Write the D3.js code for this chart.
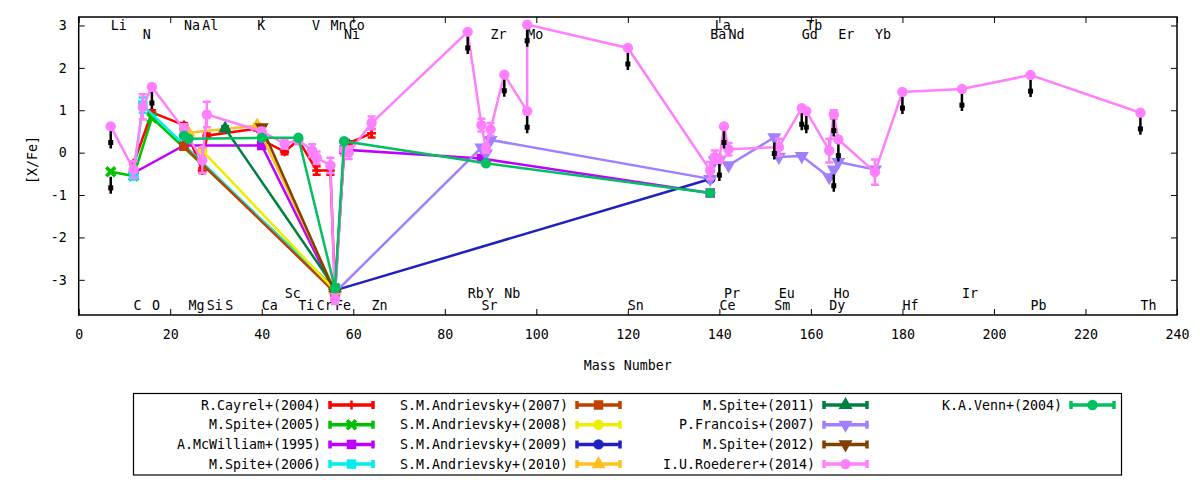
<!DOCTYPE html>
<html>
<head>
<meta charset="utf-8">
<script src="https://cdn.jsdelivr.net/npm/d3@7"></script>
<style>
  body { margin: 0; background: #fff; }
  text { font-family: "DejaVu Sans Mono", monospace; font-size: 13.3px; fill: #000; }
</style>
</head>
<body>
<div id="chart"></div>
<script>
// elements, mass number and which label row (0,1 top / 2,3 bottom)
const elementNames = ["Li","C","N","O","Na","Mg","Al","Si","S","K","Ca","Sc","Ti","V","Cr","Mn","Fe","Co","Ni","Zn",
  "Rb","Sr","Y","Zr","Nb","Mo","Sn","Ba","La","Ce","Pr","Nd","Sm","Eu","Gd","Tb","Dy","Ho","Er","Yb","Hf","Ir","Pb","Th"];
const massNumbers = [7,12,14,16,23,24,27,28,32,39,40,45,48,51,52,55,56,59,58,64,
  85,88,89,90,93,98,120,138,139,140,141,142,152,153,158,159,164,165,166,174,180,193,208,232];
const labelRow = [0,3,1,3,0,3,0,3,3,0,3,2,3,0,3,0,3,0,1,3,
  2,3,2,1,2,1,3,1,0,3,2,1,3,2,1,0,3,2,1,1,3,2,3,3];
const labelLevels = [3.0, 2.78, -3.32, -3.6];

const xTicks = [0,20,40,60,80,100,120,140,160,180,200,220,240];
const yTicks = [-3,-2,-1,0,1,2,3];

// [element, [X/Fe], error, upper limit]
const cayrel2004 = [["C",-0.25,0.05],["O",0.95,0.05],["Na",0.65,0.05],["Al",-0.42,0.06],["Si",0.4,0.05],
  ["K",0.57,0.05],["Ca",0.3,0.05],["Sc",0.02,0.06],["Ti",0.3,0.05],["Cr",-0.42,0.1],["Mn",-0.42,0.1],
  ["Fe",-3.25,0],["Ni",0.05,0.05],["Co",0.22,0.05],["Zn",0.46,0.1]];
const spite2005 = [["Li",-0.45,0,1],["C",-0.55,0],["O",0.82,0],["Fe",-3.2,0]];
const mcwilliam1995 = [["C",-0.48,0],["Na",0.17,0],["Ca",0.17,0.05],["Fe",-3.3,0],["Ni",0.07,0.05],["Sr",-0.14,0],["Ba",-0.95,0]];
const spite2006 = [["C",-0.55,0.05],["N",1.12,0.18],["Fe",-3.25,0]];
const andrievsky2007 = [["Na",0.15,0],["Fe",-3.3,0]];
const andrievsky2008 = [["Al",0.05,0],["Fe",-3.25,0]];
const andrievsky2009 = [["Fe",-3.25,0],["Ba",-0.62,0]];
const andrievsky2010 = [["Mg",0.47,0],["K",0.64,0.05],["Fe",-3.25,0]];
const spite2011 = [["S",0.57,0.05],["Fe",-3.2,0]];
const francois2007 = [["Fe",-3.3,0],["Sr",0.12,0],["Y",-0.02,0],["Zr",0.3,0],["Ba",-0.62,0],["La",-0.18,0],["Ce",-0.18,0],
  ["Nd",-0.3,0],["Sm",0.36,0,1],["Eu",-0.1,0],["Gd",-0.08,0],["Dy",-0.58,0],["Ho",-0.4,0,1],["Er",-0.22,0],["Yb",-0.4,0]];
const spite2012 = [["Ca",0.6,0],["Fe",-3.3,0]];
const roederer2014 = [["Li",0.62,0,1],["C",-0.4,0.2],["N",1.08,0.3],["O",1.55,0,1],["Na",0.55,0.12],["Al",-0.18,0.3],
  ["Si",0.9,0.3],["Ca",0.5,0.08],["Sc",0.21,0.12],["Ti",0.3,0.1],["V",0.05,0.15],["Cr",-0.12,0.15],["Mn",-0.3,0.18],
  ["Fe",-3.45,0.12],["Ni",0.08,0.15],["Co",0.0,0.15],["Zn",0.7,0.15],["Rb",2.85,0,1],["Sr",0.65,0.15],["Y",0.1,0.1],
  ["Zr",0.55,0.15],["Nb",1.84,0,1],["Mo",0.98,0,1],["Mo",3.02,0,1],["Sn",2.47,0,1],["Ba",-0.42,0.2],["La",-0.1,0.15],
  ["Ce",-0.15,0,1],["Pr",0.62,0,1],["Nd",0.08,0.15],["Eu",0.13,0.2],["Gd",1.05,0,1],["Tb",0.98,0,1],["Dy",0.05,0.28],
  ["Ho",0.9,0.1,1],["Er",0.31,0,1],["Yb",-0.46,0.3],["Hf",1.43,0,1],["Ir",1.5,0,1],["Pb",1.83,0,1],["Th",0.94,0,1]];
const venn2004 = [["Na",0.4,0],["Mg",0.33,0],["Ca",0.35,0],["Ti",0.35,0],["Fe",-3.2,0],["Ni",0.27,0],["Y",-0.25,0],["Ba",-0.95,0]];

const series = [
  {name: "R.Cayrel+(2004)",        color: "#ff0000", marker: "plus",  data: cayrel2004},
  {name: "M.Spite+(2005)",         color: "#00c000", marker: "cross", data: spite2005},
  {name: "A.McWilliam+(1995)",     color: "#c000ff", marker: "square", data: mcwilliam1995},
  {name: "M.Spite+(2006)",         color: "#00eeee", marker: "square", data: spite2006},
  {name: "S.M.Andrievsky+(2007)",  color: "#c04000", marker: "square", data: andrievsky2007},
  {name: "S.M.Andrievsky+(2008)",  color: "#eeee00", marker: "circle", data: andrievsky2008},
  {name: "S.M.Andrievsky+(2009)",  color: "#2020c0", marker: "circle", data: andrievsky2009},
  {name: "S.M.Andrievsky+(2010)",  color: "#ffc020", marker: "triangle", data: andrievsky2010},
  {name: "M.Spite+(2011)",         color: "#008040", marker: "triangle", data: spite2011},
  {name: "P.Francois+(2007)",      color: "#a080ff", marker: "down", data: francois2007},
  {name: "M.Spite+(2012)",         color: "#804000", marker: "down", data: spite2012},
  {name: "I.U.Roederer+(2014)",    color: "#ff80ff", marker: "circle", data: roederer2014},
  {name: "K.A.Venn+(2004)",        color: "#00c060", marker: "circle", data: venn2004}
];

const svg = d3.select('#chart').append('svg')
  .attr('width', 1200).attr('height', 480);

const x = d3.scaleLinear().domain([0, 240]).range([78.7, 1177]);
const y = d3.scaleLinear().domain([-3.83, 3.2]).range([315, 17]);
const [L, R] = x.range();
const [B, T] = y.range();
const mass = new Map(elementNames.map((e, i) => [e, massNumbers[i]]));

svg.append('clipPath').attr('id', 'clip').append('rect')
  .attr('x', L).attr('y', T).attr('width', R - L).attr('height', B - T);
const plot = svg.append('g').attr('clip-path', 'url(#clip)');

// element labels (behind the data)
elementNames.forEach((e, i) => {
  plot.append('text')
    .attr('x', x(massNumbers[i]))
    .attr('y', y(labelLevels[labelRow[i]]))
    .attr('dy', '0.35em')
    .text(e);
});

const drawMarker = (g, type, cx, cy, color) => {
  if (type === 'plus') {
    g.append('path').attr('d', `M${cx-4.5},${cy}H${cx+4.5}M${cx},${cy-4.5}V${cy+4.5}`)
      .attr('stroke', color).attr('stroke-width', 2.5);
  } else if (type === 'cross') {
    g.append('path').attr('d', `M${cx-4.5},${cy-4.5}L${cx+4.5},${cy+4.5}M${cx-4.5},${cy+4.5}L${cx+4.5},${cy-4.5}`)
      .attr('stroke', color).attr('stroke-width', 3.5);
  } else {
    const sym = {circle: d3.symbolCircle, square: d3.symbolSquare, triangle: d3.symbolTriangle, down: d3.symbolTriangle}[type];
    const size = {circle: 85, square: 90, triangle: 85, down: 85}[type];
    g.append('path').attr('d', d3.symbol().type(sym).size(size)())
      .attr('transform', `translate(${cx},${cy})` + (type === 'down' ? ' rotate(180)' : ''))
      .attr('fill', color);
  }
};

const line = d3.line().x(d => x(d.m)).y(d => y(d.v));

series.forEach(s => {
  const pts = s.data.map(([e, v, err, lim]) => ({m: mass.get(e), v, err, lim: !!lim}));
  const g = plot.append('g');
  g.append('path').datum(pts).attr('d', line)
    .attr('fill', 'none').attr('stroke', s.color).attr('stroke-width', 2.5);
  pts.filter(d => d.err > 0).forEach(d => {
    const cx = x(d.m), y0 = y(d.v - d.err), y1 = y(d.v + d.err);
    g.append('path').attr('d', `M${cx},${y0}V${y1}M${cx-4},${y0}H${cx+4}M${cx-4},${y1}H${cx+4}`)
      .attr('fill', 'none').attr('stroke', s.color).attr('stroke-width', 2.5);
  });
  pts.forEach(d => drawMarker(g, s.marker, x(d.m), y(d.v), s.color));
});

// upper limit bars in black
const limits = plot.append('g');
series.forEach(s => {
  s.data.filter(d => d[3]).forEach(([e, v]) => {
    const cx = x(mass.get(e));
    limits.append('line').attr('x1', cx).attr('x2', cx)
      .attr('y1', y(v) + 5).attr('y2', y(v - 0.52))
      .attr('stroke', '#000').attr('stroke-width', 2.5);
    limits.append('rect').attr('x', cx - 2.5).attr('y', y(v - 0.38) - 2.5)
      .attr('width', 5).attr('height', 5).attr('fill', '#000');
  });
});

// axes
const styleAxis = g => {
  g.select('.domain').remove();
  g.selectAll('line').attr('stroke', '#000').attr('stroke-width', 1);
  g.selectAll('text').attr('font-family', null).attr('font-size', null).style('fill', '#000');
};
svg.append('g').attr('transform', `translate(0,${B})`)
  .call(d3.axisBottom(x).tickValues(xTicks).tickSize(-6).tickPadding(15).tickFormat(d => String(d)))
  .call(styleAxis);
svg.append('g').attr('transform', `translate(0,${T})`)
  .call(d3.axisTop(x).tickValues(xTicks).tickSize(-6).tickFormat(''))
  .call(styleAxis);
svg.append('g').attr('transform', `translate(${L},0)`)
  .call(d3.axisLeft(y).tickValues(yTicks).tickSize(-6).tickPadding(12).tickFormat(d => String(d)))
  .call(styleAxis);
svg.append('g').attr('transform', `translate(${R},0)`)
  .call(d3.axisRight(y).tickValues(yTicks).tickSize(-6).tickFormat(''))
  .call(styleAxis);

svg.append('rect').attr('x', L).attr('y', T).attr('width', R - L).attr('height', B - T)
  .attr('fill', 'none').attr('stroke', '#000').attr('stroke-width', 1.5);

svg.append('text').attr('x', (L + R) / 2).attr('y', 365).attr('dy', '0.35em')
  .attr('text-anchor', 'middle').text('Mass Number');
svg.append('text').attr('transform', 'translate(32,160) rotate(-90)').attr('dy', '0.35em')
  .attr('text-anchor', 'middle').text('[X/Fe]');

// legend
const legend = svg.append('g');
legend.append('rect').attr('x', 133.5).attr('y', 393.5).attr('width', 988).attr('height', 81.5)
  .attr('fill', 'none').attr('stroke', '#000').attr('stroke-width', 1.2);
series.forEach((s, i) => {
  const col = Math.floor(i / 4), row = i % 4;
  const tx = 321 + col * 247, ty = 405 + row * 19.7;
  legend.append('text').attr('x', tx).attr('y', ty).attr('dy', '0.35em')
    .attr('text-anchor', 'end').text(s.name);
  const x0 = tx + 9, x1 = tx + 52;
  legend.append('path').attr('d', `M${x0},${ty}H${x1}M${x0},${ty-4}V${ty+4}M${x1},${ty-4}V${ty+4}`)
    .attr('fill', 'none').attr('stroke', s.color).attr('stroke-width', 3.5);
  drawMarker(legend, s.marker, (x0 + x1) / 2, ty, s.color);
});
</script>
</body>
</html>
